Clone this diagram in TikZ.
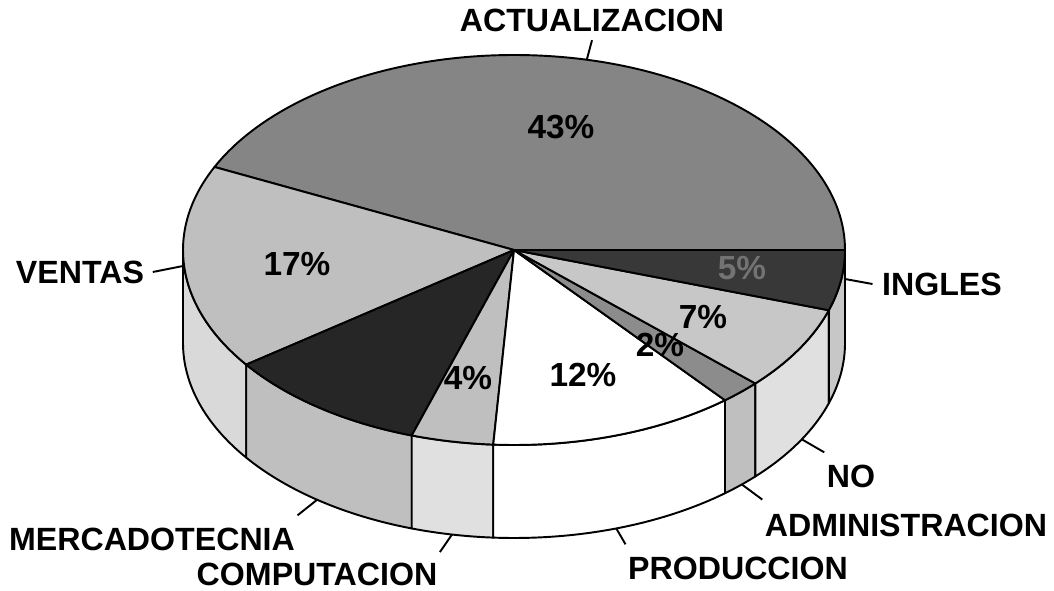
\documentclass[tikz,border=0pt]{standalone}
\usepackage{fontspec}
\setmainfont{Liberation Sans}
\usepackage{tikz}
\usetikzlibrary{positioning,calc}

\begin{document}
\begin{tikzpicture}[
    x=0.02cm, y=0.02cm,
    top/.style={draw=black, line width=1.1pt, line join=round},
    side/.style={draw=black, line width=1.1pt, line join=round},
    leader/.style={line width=1.1pt},
    lbl/.style={font=\bfseries\fontsize{18.3}{21}\selectfont, inner sep=0pt, outer xsep=1.5pt, outer ysep=7pt},
    pct/.style={font=\bfseries\fontsize{19}{22}\selectfont, inner sep=0pt}
]
\useasboundingbox (0,0) rectangle (1054,-591);

% Pie centre
\coordinate (c) at (514,-250);

% Side wall (front half)
\filldraw[side, fill=black!15] ([shift={(180:331 and 195)}]c) arc[start angle=180, end angle=216, x radius=331, y radius=195] -- ++(0,-93) arc[start angle=216, end angle=180, x radius=331, y radius=195] -- cycle;
\filldraw[side, fill=black!25] ([shift={(216:331 and 195)}]c) arc[start angle=216, end angle=252, x radius=331, y radius=195] -- ++(0,-93) arc[start angle=252, end angle=216, x radius=331, y radius=195] -- cycle;
\filldraw[side, fill=black!12] ([shift={(252:331 and 195)}]c) arc[start angle=252, end angle=266.4, x radius=331, y radius=195] -- ++(0,-93) arc[start angle=266.4, end angle=252, x radius=331, y radius=195] -- cycle;
\filldraw[side, fill=white] ([shift={(266.4:331 and 195)}]c) arc[start angle=266.4, end angle=309.6, x radius=331, y radius=195] -- ++(0,-93) arc[start angle=309.6, end angle=266.4, x radius=331, y radius=195] -- cycle;
\filldraw[side, fill=black!25] ([shift={(309.6:331 and 195)}]c) arc[start angle=309.6, end angle=316.8, x radius=331, y radius=195] -- ++(0,-93) arc[start angle=316.8, end angle=309.6, x radius=331, y radius=195] -- cycle;
\filldraw[side, fill=black!12] ([shift={(316.8:331 and 195)}]c) arc[start angle=316.8, end angle=342, x radius=331, y radius=195] -- ++(0,-93) arc[start angle=342, end angle=316.8, x radius=331, y radius=195] -- cycle;
\filldraw[side, fill=black!22] ([shift={(342:331 and 195)}]c) arc[start angle=342, end angle=360, x radius=331, y radius=195] -- ++(0,-93) arc[start angle=360, end angle=342, x radius=331, y radius=195] -- cycle;

% Top slices
\filldraw[top, fill=black!48] (c) -- ++(0:331 and 195) arc[start angle=0, end angle=154.8, x radius=331, y radius=195] -- cycle;
\filldraw[top, fill=black!25] (c) -- ++(154.8:331 and 195) arc[start angle=154.8, end angle=216, x radius=331, y radius=195] -- cycle;
\filldraw[top, fill=black!85] (c) -- ++(216:331 and 195) arc[start angle=216, end angle=252, x radius=331, y radius=195] -- cycle;
\filldraw[top, fill=black!25] (c) -- ++(252:331 and 195) arc[start angle=252, end angle=266.4, x radius=331, y radius=195] -- cycle;
\filldraw[top, fill=white] (c) -- ++(266.4:331 and 195) arc[start angle=266.4, end angle=309.6, x radius=331, y radius=195] -- cycle;
\filldraw[top, fill=black!45] (c) -- ++(309.6:331 and 195) arc[start angle=309.6, end angle=316.8, x radius=331, y radius=195] -- cycle;
\filldraw[top, fill=black!22] (c) -- ++(316.8:331 and 195) arc[start angle=316.8, end angle=342, x radius=331, y radius=195] -- cycle;
\filldraw[top, fill=black!78] (c) -- ++(342:331 and 195) arc[start angle=342, end angle=360, x radius=331, y radius=195] -- cycle;

% Percentages
\node[pct] (p_act) at (561,-127) {43\%};
\node[pct] (p_ven) at (297,-264) {17\%};
\node[pct] (p_com) at (468,-378) {4\%};
\node[pct] (p_pro) at (583,-375) {12\%};
\node[pct] (p_adm) at (660,-345) {2\%};
\node[pct] (p_no) at (703,-317) {7\%};
\node[pct, text=black!55] (p_ing) at (742,-268) {5\%};

% Leader ends on the pie
\coordinate (act_pt) at ([shift={(77.3:331 and 195)}]c);
\coordinate (ven_pt) at (183,-266);
\coordinate (ing_pt) at (845,-279);
\coordinate (no_pt) at ($(c)+(0,-93)+(-29.6:331 and 195)$);
\coordinate (adm_pt) at ($(c)+(0,-93)+(-46.5:331 and 195)$);
\coordinate (pro_pt) at ($(c)+(0,-93)+(-72:331 and 195)$);
\coordinate (com_pt) at ($(c)+(0,-93)+(259.2:331 and 195)$);
\coordinate (mer_pt) at ($(c)+(0,-93)+(233.5:331 and 195)$);

% Category labels
\node[lbl, outer ysep=5pt] (act_lbl) at (592,-20) {ACTUALIZACION};
\node[lbl, outer xsep=5pt] (ven_lbl) at (80,-272) {VENTAS};
\node[lbl, outer xsep=5.5pt] (ing_lbl) at (942,-284) {INGLES};
\node[lbl] (no_lbl) at (851,-476) {NO};
\node[lbl, outer ysep=8pt] (adm_lbl) at (906,-525) {ADMINISTRACION};
\node[lbl] (pro_lbl) at (738,-568) {PRODUCCION};
\node[lbl, outer ysep=6pt] (com_lbl) at (317,-574) {COMPUTACION};
\node[lbl] (mer_lbl) at (152,-539) {MERCADOTECNIA};

% Leaders
\draw[leader] (act_lbl.south) -- (act_pt);
\draw[leader] (ven_lbl.east) -- (ven_pt);
\draw[leader] (ing_lbl.west) -- (ing_pt);
\draw[leader] (no_lbl.north west) -- (no_pt);
\draw[leader] (adm_lbl.north west) -- (adm_pt);
\draw[leader] (pro_lbl.north west) -- (pro_pt);
\draw[leader] (com_lbl.north east) -- (com_pt);
\draw[leader] (mer_lbl.north east) -- (mer_pt);

\end{tikzpicture}
\end{document}
